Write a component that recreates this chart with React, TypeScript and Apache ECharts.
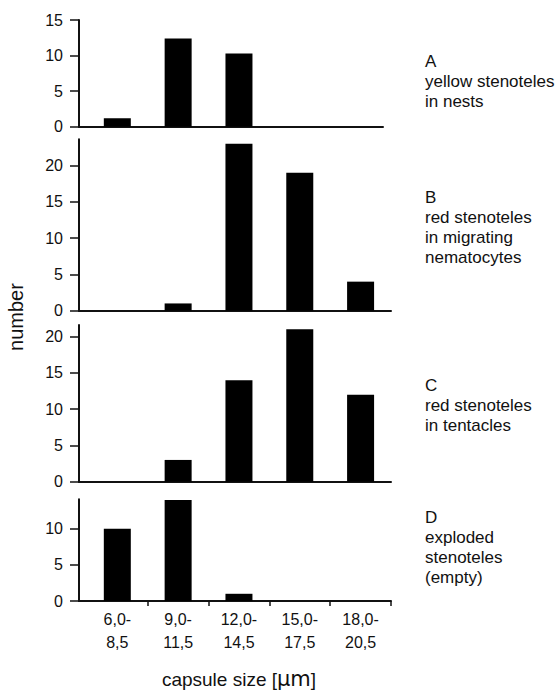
import React, { useEffect, useRef } from "react";
import * as echarts from "echarts";

// ---- data ----
const categories = ["6,0-\n8,5", "9,0-\n11,5", "12,0-\n14,5", "15,0-\n17,5", "18,0-\n20,5"];
const panelA = [1.2, 12.4, 10.3, 0, 0];
const panelB = [0, 1, 23, 19, 4];
const panelC = [0, 3, 14, 21, 12];
const panelD = [10, 14, 1, 0, 0];
const panelLabels = [
  "A\nyellow stenoteles\nin nests",
  "B\nred stenoteles\nin migrating\nnematocytes",
  "C\nred stenoteles\nin tentacles",
  "D\nexploded\nstenoteles\n(empty)",
];
const yTicksA = [0, 5, 10, 15];
const yTicksB = [0, 5, 10, 15, 20];
const yTicksC = [0, 5, 10, 15, 20];
const yTicksD = [0, 5, 10];
const yMax = [15, 23.6, 21.6, 14.1];
const xAxisTitle = "capsule size [";
const xAxisUnit = "μm";
const yAxisTitle = "number";

const FONT = "'Liberation Sans', Arial, Helvetica, sans-serif";
const INK = "#111";

export default function App() {
  const ref = useRef<HTMLDivElement>(null);
  useEffect(() => {
    if (!ref.current) return;
    const chart = echarts.init(ref.current, null, { renderer: "svg" });

    const data = [panelA, panelB, panelC, panelD];
    const ticks = [yTicksA, yTicksB, yTicksC, yTicksD];
    const layout = [
      { top: 20, height: 106.7, width: 304, xmax: 4.368, labelY: 51 },
      { top: 139.3, height: 171.4, width: 312, xmax: 4.5, labelY: 187 },
      { top: 325, height: 156.7, width: 312, xmax: 4.5, labelY: 375 },
      { top: 499.3, height: 101.7, width: 312, xmax: 4.5, labelY: 507 },
    ];
    const xMin = -0.63;

    const grid = layout.map((l) => ({ left: 79, top: l.top, width: l.width, height: l.height }));
    const xAxis = layout.map((l, i) => {
      const last = i === 3;
      return {
        type: "value",
        gridIndex: i,
        min: xMin,
        max: l.xmax,
        splitLine: { show: false },
        axisLine: { show: true, onZero: false, lineStyle: { color: INK, width: 2 } },
        axisTick: {
          show: last,
          length: 5,
          customValues: [0.5, 1.5, 2.5, 3.5, 4.5],
          lineStyle: { color: INK, width: 1.5 },
        },
        axisLabel: {
          show: last,
          customValues: [0, 1, 2, 3, 4],
          formatter: (v: number) => categories[Math.round(v)] ?? "",
          fontFamily: FONT,
          fontSize: 16,
          lineHeight: 23,
          margin: 7,
          color: INK,
        },
      };
    });
    const yAxis = layout.map((l, i) => ({
      type: "value",
      gridIndex: i,
      min: 0,
      max: yMax[i],
      interval: 5,
      splitLine: { show: false },
      axisLine: { show: true, onZero: false, lineStyle: { color: INK, width: 2 } },
      axisTick: {
        show: true,
        length: 9,
        customValues: ticks[i],
        lineStyle: { color: INK, width: 1.5 },
      },
      axisLabel: {
        show: true,
        customValues: ticks[i],
        fontFamily: FONT,
        fontSize: 16,
        margin: 16,
        color: INK,
      },
    }));
    const series = data.map((d, i) => ({
      type: "bar",
      xAxisIndex: i,
      yAxisIndex: i,
      barWidth: 27,
      itemStyle: { color: "#000" },
      data: d.map((v, k) => [k, v]),
    }));

    const graphic: any[] = layout.map((l, i) => ({
      type: "text",
      left: 425,
      top: l.labelY,
      style: {
        text: panelLabels[i],
        font: `17px ${FONT}`,
        fontSize: 17,
        fontFamily: FONT,
        lineHeight: 20,
        fill: INK,
      },
    }));
    graphic.push({
      type: "text",
      x: 239,
      y: 679,
      style: {
        text: `{a|${xAxisTitle}}{b|${xAxisUnit}}{a|]}`,
        align: "center",
        verticalAlign: "middle",
        rich: {
          a: { fontSize: 19, fontFamily: FONT, fill: INK, color: INK },
          b: { fontSize: 21, fontFamily: "'DejaVu Sans', sans-serif", fill: INK, color: INK },
        },
        fill: INK,
      },
    });
    graphic.push({
      type: "text",
      x: 16,
      y: 317,
      rotation: Math.PI / 2,
      style: {
        text: yAxisTitle,
        fontSize: 20,
        fontFamily: FONT,
        align: "center",
        verticalAlign: "middle",
        fill: INK,
      },
    });

    chart.setOption({
      animation: false,
      backgroundColor: "#fff",
      grid,
      xAxis,
      yAxis,
      series,
      graphic,
    } as any);
    return () => chart.dispose();
  }, []);
  return (
    <div
      ref={ref}
      style={{ position: "fixed", left: 0, top: 0, width: 556, height: 690, background: "#fff" }}
    />
  );
}
